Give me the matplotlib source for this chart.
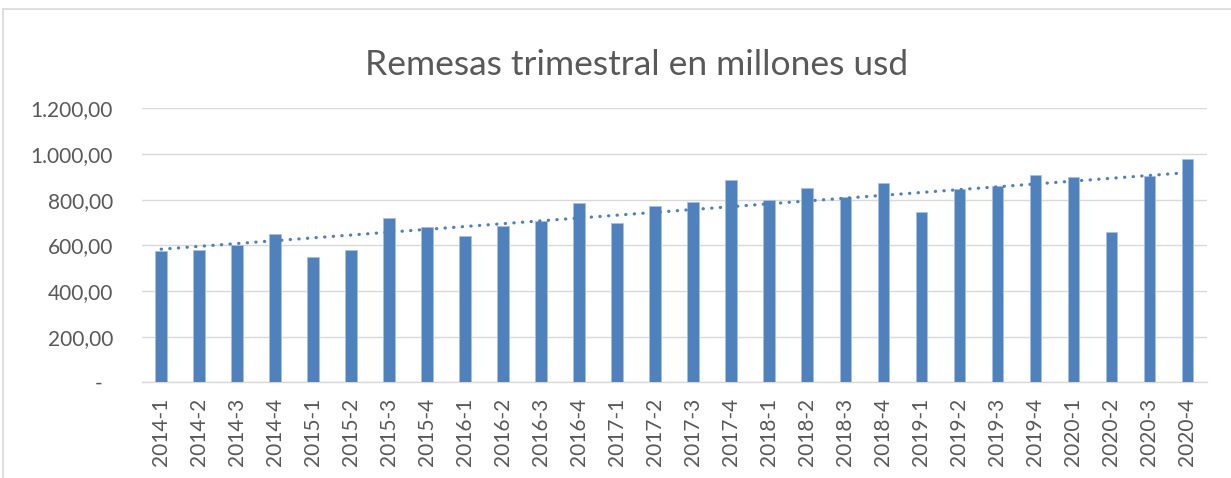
import numpy as np
import matplotlib.pyplot as plt
from matplotlib.patches import Rectangle
from matplotlib.ticker import FixedLocator, FixedFormatter

# quarterly remittances, millions usd
quarters = ["2014-1", "2014-2", "2014-3", "2014-4", "2015-1", "2015-2", "2015-3", "2015-4",
            "2016-1", "2016-2", "2016-3", "2016-4", "2017-1", "2017-2", "2017-3", "2017-4",
            "2018-1", "2018-2", "2018-3", "2018-4", "2019-1", "2019-2", "2019-3", "2019-4",
            "2020-1", "2020-2", "2020-3", "2020-4"]
remesas = [575, 579, 601, 648, 547, 579, 719, 680,
           639, 686, 705, 784, 696, 772, 791, 885,
           798, 850, 813, 873, 747, 847, 860, 909,
           899, 658, 903, 978]
y_ticks = [0, 200, 400, 600, 800, 1000, 1200]
y_tick_labels = ["-  ", "200,00", "400,00", "600,00", "800,00", "1.000,00", "1.200,00"]

title = "Remesas trimestral en millones usd"

bar_color = "#4F81BD"
text_color = "#595959"
grid_color = "#D9D9D9"

plt.rcParams["font.family"] = ["Lato", "DejaVu Sans"]

fig = plt.figure(figsize=(12.31, 4.78), dpi=100)
ax = fig.add_axes([0.1155, 0.2002, 0.8646, 0.5732])

x = np.arange(len(quarters))
ax.bar(x, remesas, width=0.31, color=bar_color, edgecolor="#A9C1E0", linewidth=0.6, zorder=3)

# linear trend
coef = np.polyfit(x, remesas, 1)
ax.plot(x, np.polyval(coef, x), color=bar_color, lw=2.3,
        linestyle=(0, (0.1, 2.6)), dash_capstyle="round", zorder=4)

ax.set_xlim(-0.5, len(quarters) - 0.5)
ax.set_ylim(0, 1200)
ax.yaxis.set_major_locator(FixedLocator(y_ticks))
ax.yaxis.set_major_formatter(FixedFormatter(y_tick_labels))
ax.set_xticks(x)
ax.set_xticklabels(quarters, rotation=90)

ax.grid(axis="y", color=grid_color, lw=1.0, zorder=0)
for s in ["left", "right", "top"]:
    ax.spines[s].set_visible(False)
ax.spines["bottom"].set_color(grid_color)
ax.spines["bottom"].set_linewidth(1.0)
ax.tick_params(axis="both", length=0, labelsize=15, colors=text_color)
ax.tick_params(axis="y", pad=21)
ax.tick_params(axis="x", pad=11)

fig.text(0.517, 0.865, title, ha="center", va="center", fontsize=25.5,
         color=text_color)

# chart frame
fig.patches.append(Rectangle((3 / 1231, -0.1), 1.2, 0.1 + (478 - 9) / 478,
                             transform=fig.transFigure, fill=False,
                             edgecolor=grid_color, lw=1.2))

fig.savefig("out.png", dpi=100)
